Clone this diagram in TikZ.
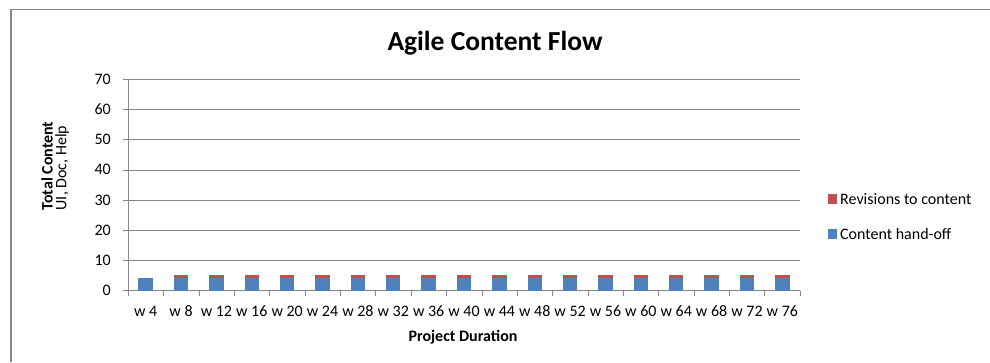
\documentclass[tikz,border=0pt]{standalone}
\usepackage{fontspec}
\setmainfont{Carlito}
\definecolor{handoff}{RGB}{79,129,189}
\definecolor{revision}{RGB}{192,80,77}
\definecolor{axisgray}{RGB}{134,134,134}
\usepackage{tikz}

\tikzset{
  ticklabel/.style={font=\fontsize{16}{19}\selectfont, inner sep=0pt},
  axistitle/.style={font=\fontsize{16}{19}\selectfont\bfseries, inner sep=0pt},
}

\begin{document}
\begin{tikzpicture}[x=1pt,y=1pt]
  \useasboundingbox (0,0) rectangle (990,362);
  %% Chart frame
  \draw[axisgray, line width=1.3pt] (11,0) -- (11,352.5) -- (990,352.5);
  %% Title
  \node[font=\fontsize{27.5}{33}\selectfont\bfseries, anchor=base, inner sep=0pt] (title) at (495,311) {Agile Content Flow};
  %% Gridlines, value ticks and labels
  \foreach \v in {0,10,...,70} {
    \draw[axisgray] (123,{71.5+3.016*\v}) -- (800,{71.5+3.016*\v});
    \node[ticklabel, anchor=east] (val\v) at (111,{71.5+3.016*\v}) {\v};
  }
  \draw[axisgray] (128,71.5) -- (128,282.6);
  %% Category ticks
  \foreach \k in {0,...,19}
    \draw[axisgray] ({128+35.37*\k},71.5) -- ++(0,-5);
  %% Stacked bars: hand-off (4.2) plus revisions (1.1) from w 8 on
  \foreach \k in {1,...,19} {
    \pgfmathsetmacro{\xc}{128+35.37*(\k-0.5)}
    \fill[handoff] ({\xc-7.2},71.5) rectangle ({\xc+7.2},{71.5+3.016*4.2});
    \ifnum\k>1
      \fill[revision] ({\xc-7.2},{71.5+3.016*4.2}) rectangle ({\xc+7.2},{71.5+3.016*5.3});
    \fi
    \node[ticklabel, anchor=base] (cat\k) at (\xc,45.3) {w \the\numexpr4*\k\relax};
  }
  %% Axis titles
  \node[axistitle, anchor=base] (xtitle) at (463,21) {Project Duration};
  \node[axistitle, rotate=90] (ytitle) at (47,196) {Total Content};
  \node[ticklabel, rotate=90] (ysub) at (62,194) {UI, Doc, Help};
  %% Legend
  \fill[revision] (827.5,158.3) rectangle (837,167.7);
  \node[ticklabel, anchor=west] (legrev) at (840,163) {Revisions to content};
  \fill[handoff] (827.5,123.3) rectangle (837,132.7);
  \node[ticklabel, anchor=west] (leghand) at (840,128) {Content hand-off};
\end{tikzpicture}
\end{document}
